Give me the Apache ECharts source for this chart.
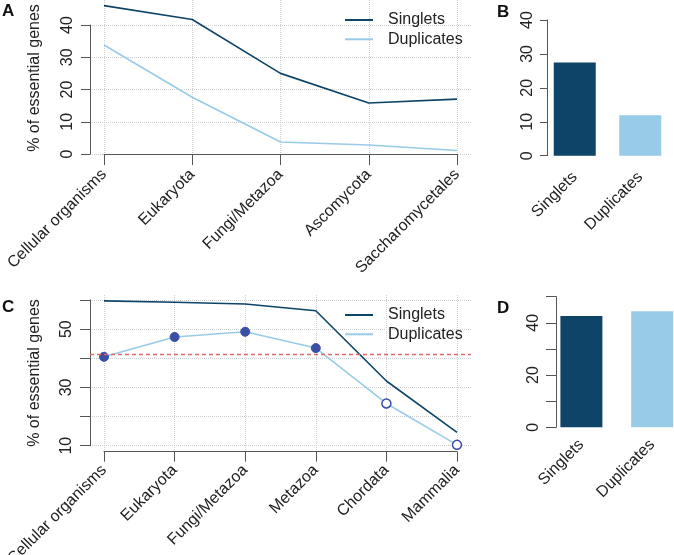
<!DOCTYPE html>
<html><head><meta charset="utf-8">
<script src="https://cdn.jsdelivr.net/npm/echarts@6/dist/echarts.min.js"></script>
<style>html,body{margin:0;padding:0;background:#fff}#c{width:674px;height:555px}</style>
</head><body><div id="c"></div>
<script>
// ---- data ----
const taxaA = ['Cellular organisms', 'Eukaryota', 'Fungi/Metazoa', 'Ascomycota', 'Saccharomycetales'];
const singletsA = [46.0, 41.7, 25.0, 15.8, 17.0];
const duplicatesA = [33.8, 17.6, 3.7, 2.8, 1.1];
const yTicksA = [0, 10, 20, 30, 40];

const taxaC = ['Cellular organisms', 'Eukaryota', 'Fungi/Metazoa', 'Metazoa', 'Chordata', 'Mammalia'];
const singletsC = [59.7, 59.2, 58.6, 56.3, 32.2, 14.6];
const duplicatesC = [40.5, 47.3, 49.1, 43.5, 24.5, 10.3];
const filledC = [true, true, true, true, false, false];
const refLineC = 41.5;
const yLabelsC = [10, 30, 50];

const barCats = ['Singlets', 'Duplicates'];
const barsB = [27.5, 11.9];
const barsD = [42.6, 44.4];
const yLabelsB = [0, 10, 20, 30, 40];
const yLabelsD = [0, 20, 40];

// ---- style ----
const DARK = '#0d4467', LIGHT = '#98cbe8', DOT = '#3a4fa5', RED = '#e06a6a';
const AX = '#555', TXT = '#222', GRIDC = '#cfcfcf';
const FONT = '"Liberation Sans", Arial, Helvetica, sans-serif';
const FS = 16;

function yAxisShown(gi, min, max, off, tickLen, labels) {
  return {
    type: 'value', gridIndex: gi, min: min, max: max, interval: 10, offset: off,
    axisLine: {show: true, lineStyle: {color: AX, width: 1}},
    axisTick: {show: true, length: tickLen, lineStyle: {color: AX, width: 1}},
    axisLabel: {
      rotate: 90, fontSize: FS, color: TXT, fontFamily: FONT, margin: tickLen + 4,
      align: 'center', verticalAlign: 'bottom',
      formatter: v => labels.indexOf(v) >= 0 ? String(v) : ''
    },
    splitLine: {show: false}
  };
}
function xLabel(margin) {
  return {rotate: 45, fontSize: FS, color: TXT, fontFamily: FONT, margin: margin, interval: 0,
    align: 'right', verticalAlign: 'middle'};
}

const chart = echarts.init(document.getElementById('c'), null, {renderer: 'canvas'});
const G = (o) => Object.assign({outerBoundsMode: 'none', containLabel: false}, o);
const option = {
  animation: false,
  backgroundColor: '#fff',
  textStyle: {fontFamily: FONT},
  grid: [
    G({left: 90, top: 25, width: 381, height: 129}),        // 0 A y-axis + h-grid
    G({left: 104, top: 0, width: 353, height: 154}),        // 1 A data
    G({left: 90, top: 300, width: 381, height: 145.7}),     // 2 C y-axis + h-grid
    G({left: 104, top: 295, width: 353, height: 155.7}),    // 3 C data
    G({left: 542, top: 20, width: 131, height: 135.7}),     // 4 B
    G({left: 546, top: 296.7, width: 141.6, height: 130.6}) // 5 D
  ],
  xAxis: [
    {type: 'value', gridIndex: 0, min: 0, max: 1, show: false},
    {type: 'category', gridIndex: 1, data: taxaA, boundaryGap: false, offset: 1,
      axisLine: {show: true, lineStyle: {color: AX, width: 1}},
      axisTick: {show: true, length: 11, lineStyle: {color: AX}},
      axisLabel: xLabel(17),
      splitLine: {show: true, lineStyle: {type: 'dotted', color: GRIDC}}},
    {type: 'value', gridIndex: 2, min: 0, max: 1, show: false},
    {type: 'category', gridIndex: 3, data: taxaC, boundaryGap: false, offset: 1,
      axisLine: {show: true, lineStyle: {color: AX, width: 1}},
      axisTick: {show: true, length: 10, lineStyle: {color: AX}},
      axisLabel: xLabel(16),
      splitLine: {show: true, lineStyle: {type: 'dotted', color: GRIDC}}},
    {type: 'category', gridIndex: 4, data: barCats,
      axisLine: {show: false}, axisTick: {show: false}, axisLabel: xLabel(19)},
    {type: 'category', gridIndex: 5, data: barCats,
      axisLine: {show: false}, axisTick: {show: false}, axisLabel: xLabel(15)}
  ],
  yAxis: [
    Object.assign(yAxisShown(0, 0, 40, 1, 9, yTicksA), {splitLine: {show: true, lineStyle: {type: 'dotted', color: GRIDC}}}),
    {type: 'value', gridIndex: 1, min: 0, max: 47.75, show: false},
    Object.assign(yAxisShown(2, 10, 60, 1, 10, yLabelsC), {splitLine: {show: true, lineStyle: {type: 'dotted', color: GRIDC}}}),
    {type: 'value', gridIndex: 3, min: 8.29, max: 61.71, show: false},
    yAxisShown(4, 0, 40, -5, 7, yLabelsB),
    yAxisShown(5, 0, 50, -10, 10, yLabelsD)
  ],
  legend: [
    {left: 345, top: 11, orient: 'vertical', padding: 0, itemGap: 1.3, icon: 'rect',
      itemWidth: 28, itemHeight: 2, data: ['Singlets', 'Duplicates'],
      textStyle: {fontSize: FS, color: TXT, fontFamily: FONT, lineHeight: 18, padding: [0, 0, 0, 10]}},
    {left: 345, top: 306, orient: 'vertical', padding: 0, itemGap: 1.3, icon: 'rect',
      itemWidth: 28, itemHeight: 2, data: ['Singlets', 'Duplicates'],
      textStyle: {fontSize: FS, color: TXT, fontFamily: FONT, lineHeight: 18, padding: [0, 0, 0, 10]}}
  ],
  series: [
    {name: 'Singlets', type: 'line', xAxisIndex: 1, yAxisIndex: 1, data: singletsA, symbol: 'none',
      lineStyle: {color: DARK, width: 1.6}, itemStyle: {color: DARK}},
    {name: 'Duplicates', type: 'line', xAxisIndex: 1, yAxisIndex: 1, data: duplicatesA, symbol: 'none',
      lineStyle: {color: LIGHT, width: 1.6}, itemStyle: {color: LIGHT}},
    {name: 'ref', type: 'line', xAxisIndex: 2, yAxisIndex: 2, data: [], symbol: 'none',
      markLine: {silent: true, symbol: ['none', 'none'], label: {show: false},
        lineStyle: {color: RED, type: [4, 3], width: 1.3}, data: [{yAxis: refLineC}]}},
    {name: 'Singlets', type: 'line', xAxisIndex: 3, yAxisIndex: 3, data: singletsC, symbol: 'none',
      lineStyle: {color: DARK, width: 1.6}, itemStyle: {color: DARK}},
    {name: 'Duplicates', type: 'line', xAxisIndex: 3, yAxisIndex: 3, symbol: 'circle', symbolSize: 9,
      showSymbol: true, lineStyle: {color: LIGHT, width: 1.6}, itemStyle: {color: LIGHT}, z: 3,
      data: duplicatesC.map((v, i) => ({
        value: v,
        itemStyle: filledC[i] ? {color: DOT, borderColor: DOT, borderWidth: 1}
                              : {color: '#fff', borderColor: DOT, borderWidth: 1.5}
      }))},
    {name: 'B', type: 'bar', xAxisIndex: 4, yAxisIndex: 4, barWidth: 42,
      data: barsB.map((v, i) => ({value: v, itemStyle: {color: i === 0 ? DARK : LIGHT}}))},
    {name: 'D', type: 'bar', xAxisIndex: 5, yAxisIndex: 5, barWidth: 42,
      data: barsD.map((v, i) => ({value: v, itemStyle: {color: i === 0 ? DARK : LIGHT}}))}
  ],
  graphic: [
    {type: 'text', x: 2, y: 3, style: {text: 'A', font: 'bold 17px ' + FONT, fill: '#111'}},
    {type: 'text', x: 497, y: 4, style: {text: 'B', font: 'bold 17px ' + FONT, fill: '#111'}},
    {type: 'text', x: 2, y: 299, style: {text: 'C', font: 'bold 17px ' + FONT, fill: '#111'}},
    {type: 'text', x: 497, y: 300, style: {text: 'D', font: 'bold 17px ' + FONT, fill: '#111'}},
    {type: 'text', x: 35, y: 78, rotation: Math.PI / 2,
      style: {text: '% of essential genes', font: FS + 'px ' + FONT, fill: TXT, align: 'center', verticalAlign: 'middle'}},
    {type: 'text', x: 35, y: 373, rotation: Math.PI / 2,
      style: {text: '% of essential genes', font: FS + 'px ' + FONT, fill: TXT, align: 'center', verticalAlign: 'middle'}}
  ]
};
chart.setOption(option);
</script></body></html>
